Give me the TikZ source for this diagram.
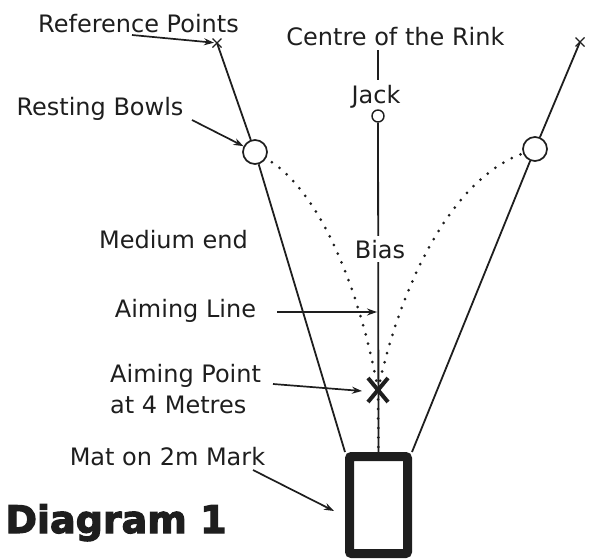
\documentclass[tikz,border=0pt]{standalone}
\usepackage{fontspec}
\setmainfont{DejaVu Sans}
\newfontfamily\heavyfont[FakeBold=3]{DejaVu Sans Bold}
\usetikzlibrary{arrows.meta}
\definecolor{ink}{HTML}{1E1E1E}
\begin{document}
\begin{tikzpicture}[x=1pt,y=-1pt, color=ink,
  lbl/.style={font=\fontsize{24}{28}\selectfont, inner sep=0pt, anchor=base, text=ink},
  ln/.style={line width=1.8pt},
  arr/.style={line width=1.7pt,-{Stealth[length=10pt,width=7pt]}},
  dotline/.style={line width=3pt, line cap=round, dash pattern=on 0pt off 9.5pt},
  bowl/.style={circle, draw, line width=1.7pt, minimum size=24pt, inner sep=0pt, fill=white},
  xmark/.style={line width=1.4pt},
  bigx/.style={line width=4pt},
]
\useasboundingbox (0,0) rectangle (590,560);

% named points
\coordinate (refL) at (217,43);
\coordinate (refR) at (580,42);
\coordinate (aim) at (378,390);
\coordinate (c1) at (378,50);
\coordinate (c2) at (378,80);

% mat, jack, bowls
\node[draw, line width=9pt, rounded corners=2pt, minimum width=58pt, minimum height=97pt, inner sep=0pt] (mat) at (378.5,505) {};
\node[circle, draw, line width=1.4pt, minimum size=12pt, inner sep=0pt] (jack) at (378,116) {};
\node[bowl] (bowlL) at (255,152) {};
\node[bowl] (bowlR) at (535,149) {};

% reference lines
\draw[ln] (refL) -- (bowlL);
\draw[ln] (bowlL) -- (mat.north west);
\draw[ln] (refR) -- (bowlR);
\draw[ln] (bowlR) -- (mat.north east);
\draw[xmark] (refL) ++(-4.5,-4.5) -- ++(9,9) (refL) ++(4.5,-4.5) -- ++(-9,9);
\draw[xmark] (refR) ++(-4.5,-4.5) -- ++(9,9) (refR) ++(4.5,-4.5) -- ++(-9,9);

% aiming line
\draw[ln] (jack) -- (mat.north);
\draw[ln] (c1) -- (c2);

% bias paths
\draw[dotline] (aim) .. controls (360,290) and (320,190) .. (bowlL);
\draw[dotline] (aim) .. controls (398,295) and (447,181) .. (bowlR);
\draw[dotline] (aim) -- (mat.north);

% aiming point cross
\draw[bigx] (aim) ++(-10,-12) -- ++(20,24) (aim) ++(10,-12) -- ++(-20,24);

% labels
\node[lbl] (refpts) at (138.5,32) {Reference Points};
\node[lbl] (centre) at (395.5,45) {Centre of the Rink};
\node[lbl] (jacklbl) at (376,103) {Jack};
\node[lbl] (resting) at (100,115) {Resting Bowls};
\node[lbl] (medium) at (173.5,248) {Medium end};
\node[lbl, fill=white, inner ysep=3.5pt, inner xsep=1pt] (bias) at (380,258) {Bias};
\node[lbl] (aimline) at (185.5,317) {Aiming Line};
\node[lbl, anchor=base west] (aimpt) at (110,382) {Aiming Point};
\node[lbl, anchor=base west] (aimpt2) at (110,413) {at 4 Metres};
\node[lbl] (matlbl) at (167.5,465) {Mat on 2m Mark};
\node[font=\heavyfont\fontsize{38}{40}\selectfont, inner sep=0pt, anchor=base, text=ink] (diag) at (116,533) {Diagram 1};

% arrows
\coordinate (a1) at (132,35);
\coordinate (a3) at (277,312);
\coordinate (a3e) at (377,312);
\coordinate (a4) at (273,384);
\coordinate (a4e) at (362,391);
\coordinate (a5) at (253,470);
\coordinate (a5e) at (334,511);
\coordinate (a2) at (192,120);
\draw[arr, shorten >=3pt] (a1) -- (refL);
\draw[arr] (a2) -- (bowlL);
\draw[arr] (a3) -- (a3e);
\draw[arr] (a4) -- (a4e);
\draw[arr] (a5) -- (a5e);
\end{tikzpicture}
\end{document}
